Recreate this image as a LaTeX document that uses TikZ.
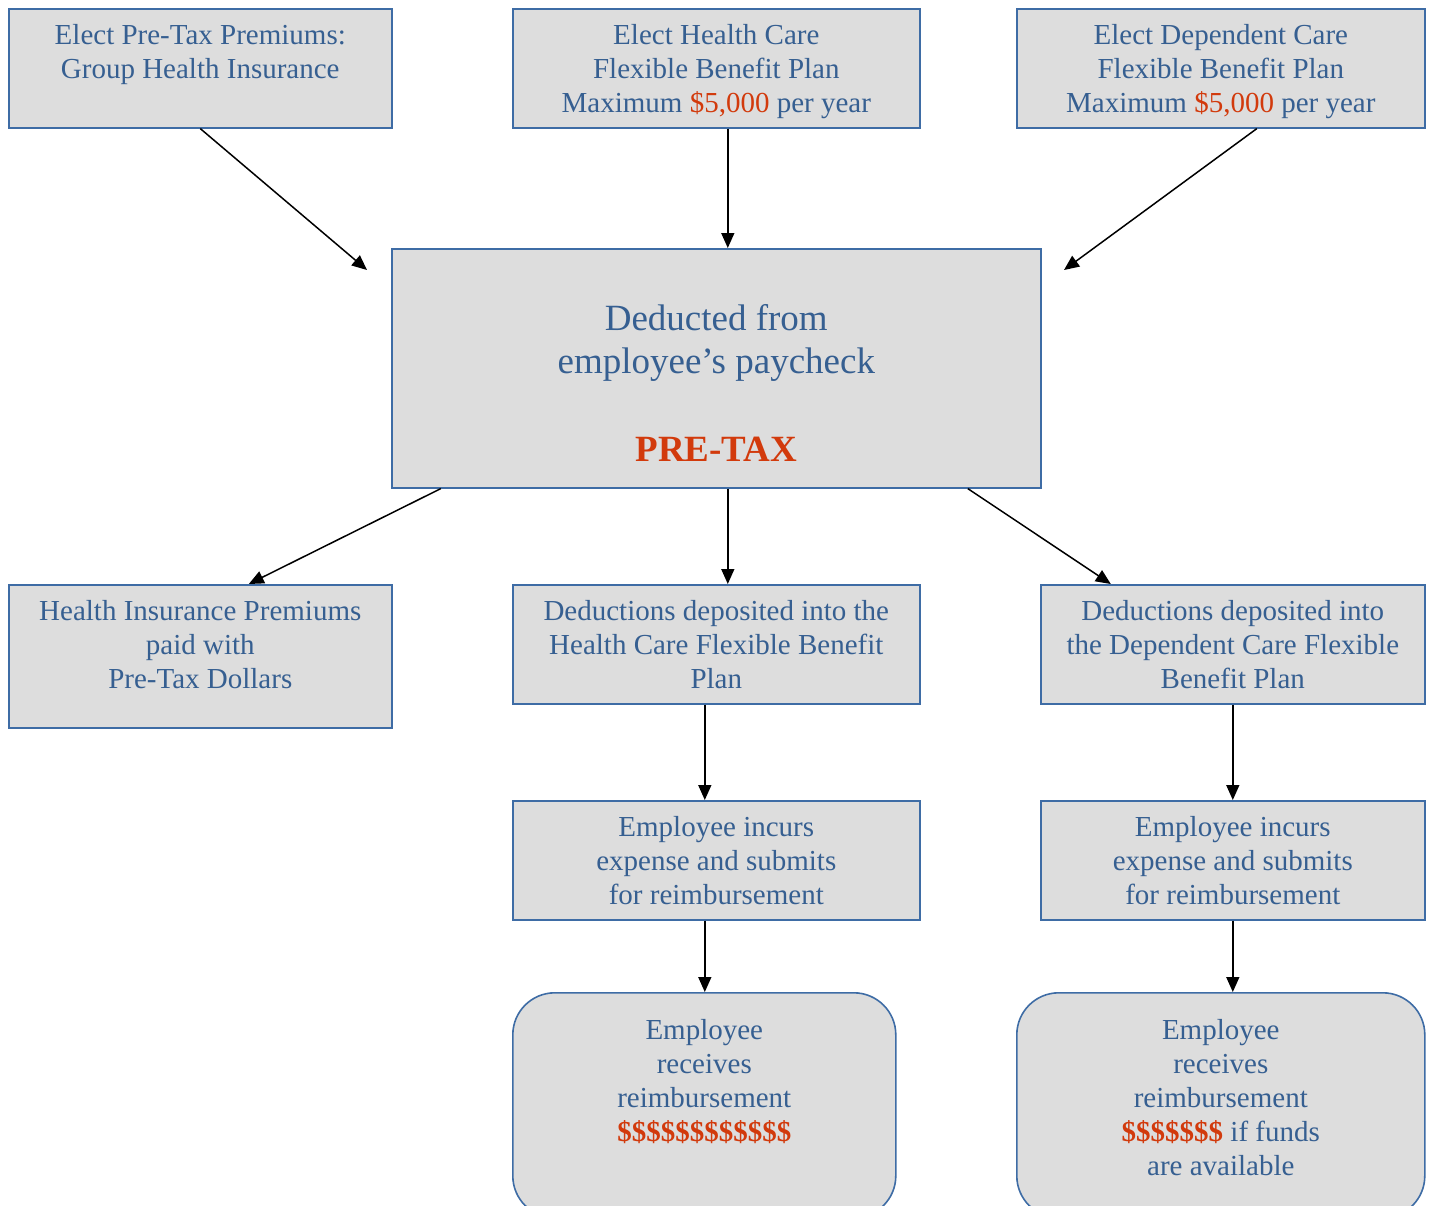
\documentclass[tikz,border=0pt]{standalone}
\usepackage{fontspec}
\setmainfont{Liberation Serif}
\usetikzlibrary{arrows.meta}
\definecolor{txtc}{RGB}{54,95,145}
\definecolor{redc}{RGB}{210,58,12}
\definecolor{bordc}{RGB}{62,108,165}
\definecolor{boxg}{RGB}{221,221,221}
\newcommand{\rd}[1]{\textcolor{redc}{#1}}
\begin{document}
\begin{tikzpicture}[x=1pt,y=-1pt,
  box/.style={draw=bordc, fill=boxg, line width=1.6pt, inner sep=0pt, rectangle, anchor=north west},
  rbox/.style={box, rounded corners=42pt},
  txt/.style={text=txtc, font=\fontsize{29}{34}\selectfont, inner sep=0pt, anchor=base},
  bigtxt/.style={text=txtc, font=\fontsize{37}{43}\selectfont, inner sep=0pt, anchor=base},
  arr/.style={line width=1.5pt, -{Triangle[length=15pt,width=13pt]}}]
\useasboundingbox (0,0) rectangle (1429,1205);
\clip (0,0) rectangle (1429,1205);
% boxes
\node[box, minimum width=383pt, minimum height=119pt] (b1) at (8,8) {};
\node[box, minimum width=407pt, minimum height=119pt] (b2) at (512,8) {};
\node[box, minimum width=408pt, minimum height=119pt] (b3) at (1016,8) {};
\node[box, minimum width=649pt, minimum height=239pt] (b4) at (391,248) {};
\node[box, minimum width=383pt, minimum height=143pt] (b5) at (8,584) {};
\node[box, minimum width=407pt, minimum height=119pt] (b6) at (512,584) {};
\node[box, minimum width=384pt, minimum height=119pt] (b7) at (1040,584) {};
\node[box, minimum width=407pt, minimum height=119pt] (b8) at (512,800) {};
\node[box, minimum width=384pt, minimum height=119pt] (b9) at (1040,800) {};
\node[rbox, minimum width=383pt, minimum height=225pt] (b10) at (512,992) {};
\node[rbox, minimum width=408pt, minimum height=225pt] (b11) at (1016,992) {};
% texts
\node[txt] (t1) at ([yshift=-36pt]b1.north) {\parbox[t]{430pt}{\centering Elect Pre-Tax Premiums:\\Group Health Insurance}};
\node[txt] (t2) at ([yshift=-36pt]b2.north) {\parbox[t]{430pt}{\centering Elect Health Care\\Flexible Benefit Plan\\Maximum \rd{\$5,000} per year}};
\node[txt] (t3) at ([yshift=-36pt]b3.north) {\parbox[t]{430pt}{\centering Elect Dependent Care\\Flexible Benefit Plan\\Maximum \rd{\$5,000} per year}};
\node[bigtxt] (t4) at ([yshift=-82pt]b4.north) {\parbox[t]{600pt}{\centering Deducted from\\employee’s paycheck\\[45pt]\rd{\textbf{PRE-TAX}}}};
\node[txt] (t5) at ([yshift=-36pt]b5.north) {\parbox[t]{430pt}{\centering Health Insurance Premiums\\paid with\\Pre-Tax Dollars}};
\node[txt] (t6) at ([yshift=-36pt]b6.north) {\parbox[t]{430pt}{\centering Deductions deposited into the\\Health Care Flexible Benefit\\Plan}};
\node[txt] (t7) at ([yshift=-36pt]b7.north) {\parbox[t]{430pt}{\centering Deductions deposited into\\the Dependent Care Flexible\\Benefit Plan}};
\node[txt] (t8) at ([yshift=-36pt]b8.north) {\parbox[t]{430pt}{\centering Employee incurs\\expense and submits\\for reimbursement}};
\node[txt] (t9) at ([yshift=-36pt]b9.north) {\parbox[t]{430pt}{\centering Employee incurs\\expense and submits\\for reimbursement}};
\node[txt] (t10) at ([yshift=-47pt]b10.north) {\parbox[t]{430pt}{\centering Employee\\receives\\reimbursement\\\rd{\textbf{\$\$\$\$\$\$\$\$\$\$\$\$}}}};
\node[txt] (t11) at ([yshift=-47pt]b11.north) {\parbox[t]{430pt}{\centering Employee\\receives\\reimbursement\\\rd{\textbf{\$\$\$\$\$\$\$}} if funds\\are available}};
% connector end points
\coordinate (e1) at (367,270);
\coordinate (e3) at (1064,270);
\coordinate (s3) at ([xshift=36pt]b3.south);
\coordinate (s4a) at ([xshift=-275.5pt]b4.south);
\coordinate (s4b) at ([xshift=11.5pt]b4.south);
\coordinate (s4c) at ([xshift=251.5pt]b4.south);
% connectors
\draw[arr] (b1.south) -- (e1);
\draw[arr] ([xshift=11.5pt]b2.south) -- ([xshift=11.5pt]b4.north);
\draw[arr] (s3) -- (e3);
\draw[arr] (s4a) -- ([xshift=48.5pt]b5.north);
\draw[arr] (s4b) -- ([xshift=11.5pt]b6.north);
\draw[arr] (s4c) -- ([xshift=-122pt]b7.north);
\draw[arr] ([xshift=-11.5pt]b6.south) -- ([xshift=-11.5pt]b8.north);
\draw[arr] ([xshift=-11.5pt]b8.south) -- ([xshift=0.5pt]b10.north);
\draw[arr] (b7.south) -- (b9.north);
\draw[arr] (b9.south) -- ([xshift=12pt]b11.north);
\end{tikzpicture}
\end{document}
